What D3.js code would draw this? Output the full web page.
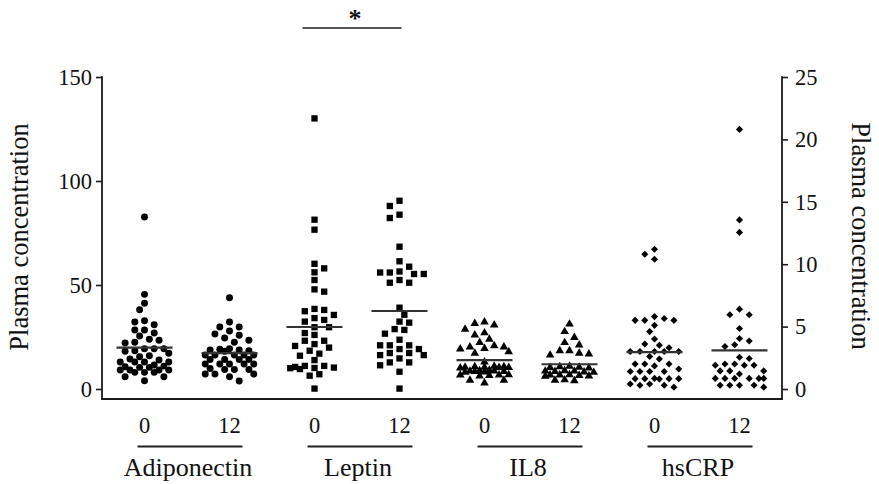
<!DOCTYPE html>
<html><head><meta charset="utf-8">
<script src="https://cdn.jsdelivr.net/npm/d3@7"></script>
<style>body{margin:0;background:#fff}text{font-family:"Liberation Serif","Times New Roman",serif;fill:#111}</style>
</head><body>
<svg id="chart" width="879" height="484"></svg>
<script>
const groups = ["Adiponectin", "Leptin", "IL8", "hsCRP"];
const timepoints = ["0", "12"];
const leftTicks = [0, 50, 100, 150];
const rightTicks = [0, 5, 10, 15, 20, 25];
const axisTitle = "Plasma concentration";

const adiponectin0 = [82.7, 45.5, 41.2, 38.1, 32.8, 32.2, 30.9, 28.4, 28.4, 26.9, 25.5, 23.9, 23.4, 22.5, 22.1, 19.4, 19.4, 19.4, 18.4, 18.1, 17.2, 16.0, 15.5, 14.4, 13.9, 13.0, 13.0, 13.0, 13.0, 11.5, 11.0, 10.7, 10.4, 10.4, 9.1, 9.1, 9.1, 9.1, 8.0, 8.0, 8.0, 5.9, 5.9, 4.0];
const adiponectin12 = [43.9, 32.2, 29.8, 29.8, 27.9, 26.4, 25.8, 24.5, 23.4, 22.5, 19.4, 19.1, 18.8, 18.8, 18.4, 18.1, 16.3, 16.3, 16.3, 16.3, 16.3, 14.2, 14.2, 14.2, 14.2, 12.0, 12.0, 12.0, 12.0, 12.0, 9.9, 9.4, 9.4, 9.4, 7.2, 7.2, 7.2, 5.9, 3.8];
const leptin0 = [130.1, 81.4, 76.6, 60.2, 58.0, 56.1, 52.4, 47.9, 46.8, 38.5, 38.0, 37.4, 35.6, 34.1, 33.2, 32.4, 29.7, 29.7, 26.9, 26.0, 23.2, 23.2, 21.6, 20.7, 19.9, 18.4, 17.0, 16.0, 13.9, 11.1, 11.1, 10.6, 10.3, 10.1, 10.0, 9.6, 7.1, 6.4, 0.2];
const leptin12 = [90.5, 88.0, 83.8, 82.2, 68.4, 61.4, 58.8, 56.5, 56.0, 56.0, 55.3, 55.3, 52.4, 51.1, 51.1, 39.1, 35.7, 32.4, 31.9, 28.8, 28.4, 26.6, 23.7, 21.0, 21.0, 21.0, 19.2, 19.2, 17.3, 17.3, 16.3, 16.3, 14.7, 12.8, 12.8, 11.4, 8.3, 0.2];
const il8_0 = [32.2, 31.5, 30.8, 28.7, 27.0, 26.0, 23.9, 22.4, 20.8, 20.2, 20.2, 19.5, 19.2, 17.9, 17.2, 13.0, 10.9, 10.7, 10.7, 10.5, 10.5, 10.3, 10.3, 10.1, 9.0, 8.8, 8.6, 8.6, 8.4, 8.4, 8.2, 8.0, 6.9, 6.7, 6.7, 6.5, 6.3, 4.2, 4.2, 2.9];
const il8_12 = [31.2, 27.6, 24.8, 22.3, 21.2, 18.4, 18.4, 17.2, 16.8, 16.3, 10.9, 10.7, 10.5, 10.3, 10.1, 8.8, 8.6, 8.6, 8.4, 8.2, 8.0, 6.9, 6.7, 6.7, 6.5, 6.3, 6.1, 4.4, 4.2, 4.0];
const hscrp0 = [11.2, 10.8, 10.4, 5.8, 5.65, 5.5, 5.5, 5.5, 5.1, 4.6, 4.0, 3.6, 3.5, 3.3, 3.0, 3.0, 3.0, 3.0, 3.0, 2.6, 2.4, 2.0, 2.0, 2.0, 1.85, 1.6, 1.4, 1.4, 1.4, 1.4, 0.85, 0.83, 0.83, 0.83, 0.83, 0.8, 0.4, 0.4, 0.3, 0.3, 0.15];
const hscrp12 = [20.8, 13.55, 12.55, 6.4, 5.95, 5.95, 4.85, 4.05, 3.85, 3.55, 3.4, 2.55, 2.45, 2.0, 2.0, 1.9, 1.9, 1.9, 1.45, 1.45, 1.45, 1.2, 0.85, 0.85, 0.85, 0.85, 0.85, 0.85, 0.3, 0.3, 0.15, 0.3, 0.3];

// means (left-axis units for first three groups, right-axis for hsCRP)
const meanValues = [19.9, 17.2, 29.8, 37.5, 13.9, 11.9, 2.95, 3.1];
const groupAxis = ["left", "left", "left", "right"];
const groupSymbols = ["circle", "square", "triangle", "diamond"];

const columns = [
  {group: 0, time: 0, values: adiponectin0},
  {group: 0, time: 1, values: adiponectin12},
  {group: 1, time: 0, values: leptin0},
  {group: 1, time: 1, values: leptin12},
  {group: 2, time: 0, values: il8_0},
  {group: 2, time: 1, values: il8_12},
  {group: 3, time: 0, values: hscrp0},
  {group: 3, time: 1, values: hscrp12}
].map((c, i) => ({...c, key: groups[c.group] + "_" + timepoints[c.time], mean: meanValues[i]}));

const svg = d3.select("#chart");
const plotL = 102, plotR = 782, yTop = 77, yZero = 389, baseY = 399;

const x = d3.scaleBand().domain(columns.map(c => c.key)).range([plotL, plotR]).padding(0);
const yL = d3.scaleLinear().domain([0, 150]).range([yZero, yTop]);
const yR = d3.scaleLinear().domain([0, 25]).range([yZero, yTop]);
const cx = k => x(k) + x.bandwidth() / 2;

// axes
const axisColor = "#1a1a1a";
const gL = svg.append("g").attr("transform", `translate(${plotL},0)`)
  .call(d3.axisLeft(yL).tickValues(leftTicks).tickSize(6).tickPadding(4));
const gR = svg.append("g").attr("transform", `translate(${plotR},0)`)
  .call(d3.axisRight(yR).tickValues(rightTicks).tickSize(6).tickPadding(7));
[gL, gR].forEach(g => {
  g.select(".domain").remove();
  g.selectAll(".tick line").attr("stroke", axisColor).attr("stroke-width", 1.6);
  g.selectAll(".tick text").attr("font-size", 22.5).attr("font-family", "Liberation Serif, serif").attr("fill", "#111");
});
svg.append("line").attr("x1", plotL).attr("x2", plotL).attr("y1", yTop - 0.8).attr("y2", baseY).attr("stroke", axisColor).attr("stroke-width", 1.8);
svg.append("line").attr("x1", plotR).attr("x2", plotR).attr("y1", yTop - 0.8).attr("y2", baseY).attr("stroke", axisColor).attr("stroke-width", 1.8);
svg.append("line").attr("x1", plotL - 0.9).attr("x2", plotR + 0.9).attr("y1", baseY).attr("y2", baseY).attr("stroke", axisColor).attr("stroke-width", 1.8);

// axis titles
svg.append("text").attr("transform", `translate(28,237) rotate(-90)`).attr("text-anchor", "middle")
  .attr("font-size", 26.5).text(axisTitle);
svg.append("text").attr("transform", `translate(852,236) rotate(90)`).attr("text-anchor", "middle")
  .attr("font-size", 26.5).text(axisTitle);

// beeswarm layout on a half-step grid with collision avoidance
function swarm(values, yScale, grid, minD, maxK) {
  const pts = values.map(v => ({v, y: yScale(v)})).sort((a, b) => a.y - b.y);
  const placed = [];
  pts.forEach((p, idx) => {
    let best = null, bestScore = -Infinity, bestDx = 0;
    for (let k = 0; k <= maxK && best === null; k++) {
      const cands = k === 0 ? [0] : (idx % 2 ? [-k, k] : [k, -k]);
      for (const c of cands) {
        const dx = c * grid;
        let md = Infinity;
        placed.forEach(q => { md = Math.min(md, Math.hypot(q.dx - dx, q.y - p.y)); });
        if (md >= minD) { best = dx; break; }
        if (md > bestScore) { bestScore = md; bestDx = dx; }
      }
    }
    p.dx = best === null ? bestDx : best;
    placed.push(p);
  });
  return pts;
}

const symbolTypes = {
  circle: d3.symbolCircle,
  square: d3.symbolSquare,
  triangle: d3.symbolTriangle,
  diamond: d3.symbolDiamond2 || d3.symbolSquare
};
const symbolSizes = {circle: 38, square: 40, triangle: 32, diamond: 32};

columns.forEach(c => {
  const ys = groupAxis[c.group] === "right" ? yR : yL;
  const shape = groupSymbols[c.group];
  const pts = swarm(c.values, ys, 4.85, 7.6, 5);
  const center = cx(c.key);
  const sym = d3.symbol().type(symbolTypes[shape]).size(symbolSizes[shape]);
  svg.append("g").selectAll("path").data(pts).join("path")
    .attr("d", sym)
    .attr("transform", d => `translate(${center + d.dx},${d.y})` + (shape === "diamond" && !d3.symbolDiamond2 ? " rotate(45)" : ""))
    .attr("fill", "#000");
  svg.append("line").attr("x1", center - 28).attr("x2", center + 28)
    .attr("y1", ys(c.mean)).attr("y2", ys(c.mean)).attr("stroke", "#333").attr("stroke-width", 2.2);
});

// category tick labels
svg.append("g").selectAll("text").data(columns).join("text")
  .attr("x", d => cx(d.key)).attr("y", 433).attr("text-anchor", "middle")
  .attr("font-size", 22.5).text(d => timepoints[d.time]);

// group underline + label
groups.forEach(g => {
  const a = cx(g + "_" + timepoints[0]), b = cx(g + "_" + timepoints[1]);
  svg.append("line").attr("x1", a - 7).attr("x2", b + 13).attr("y1", 446.5).attr("y2", 446.5)
    .attr("stroke", "#222").attr("stroke-width", 2);
  svg.append("text").attr("x", (a + b) / 2 + 1).attr("y", 476).attr("text-anchor", "middle")
    .attr("font-size", 26).text(g);
});

// significance bar over Leptin
const la = cx("Leptin_0"), lb = cx("Leptin_12");
svg.append("line").attr("x1", la - 12).attr("x2", lb + 2).attr("y1", 28).attr("y2", 28)
  .attr("stroke", "#555").attr("stroke-width", 2);
svg.append("text").attr("x", (la + lb) / 2 - 2).attr("y", 27).attr("text-anchor", "middle")
  .attr("font-size", 26).attr("font-weight", "bold").text("*");
</script>
</body></html>
